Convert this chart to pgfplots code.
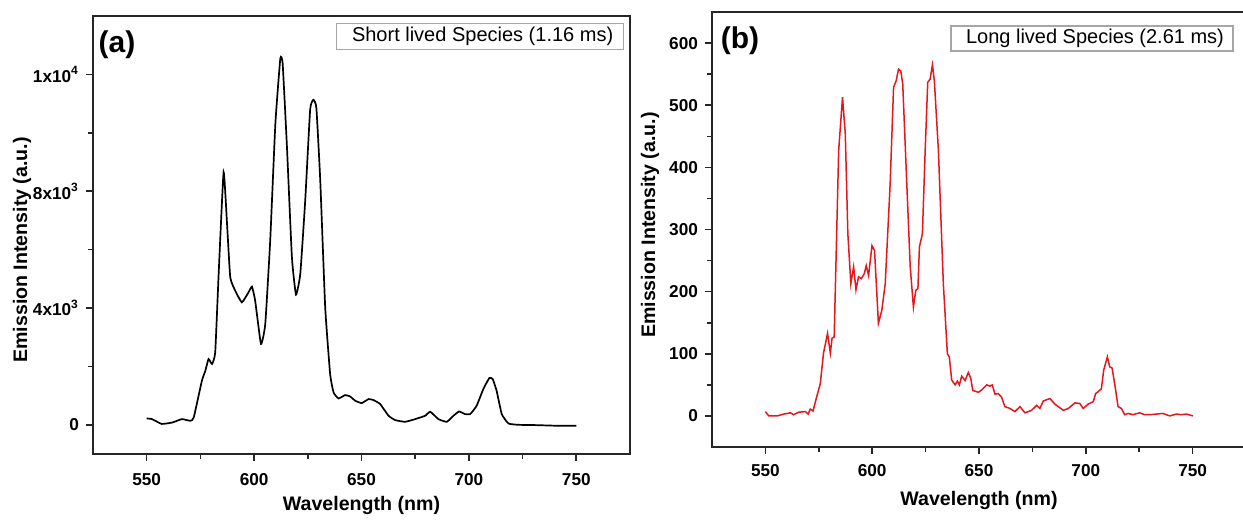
\documentclass[border=0pt]{standalone}
\usepackage{pgfplots}
\pgfplotsset{compat=1.18}
\usepackage{pgfplotstable}
\usepackage{fontspec}
\setmainfont{Liberation Sans}
\definecolor{specred}{RGB}{228,22,30}

\pgfplotstableread{
wl I
550 216
552.5 195
557 30
562 80
566.4 195
570.3 137
571.9 250
575.7 1509
577.3 1852
578.8 2253
580.4 2081
581.9 2481
583.5 5167
585.8 8652
587.4 6882
588.9 5052
591.2 4595
594.3 4194
597.4 4537
599 4732
600.5 4252
603.2 2767
605.2 3453
607.5 6309
609.9 10311
612.2 12540
613.3 12369
615.3 9509
617.6 5737
619.5 4458
621.5 5167
623.8 7681
626.1 10800
627.6 11130
629 10850
630.8 8367
633.1 4022
635.4 1738
637 1108
639.3 903
642.4 1018
644.7 971
647.1 823
650.1 744
653.3 881
655.6 847
658.7 710
662.6 309
665.7 161
670.3 103
675 195
679.6 309
682 446
685.8 195
689.7 103
692.8 309
695.4 456
698.2 367
700.6 367
703.6 652
706.7 1223
709.5 1600
711.1 1566
712.9 1166
715.3 367
718.4 46
723 0
730.8 -10
740 -30
750 -34
}\shortdata

\pgfplotstableread{
wl I
550 7
551.6 0
555.5 0
558.6 3
561.7 5
563.2 2
565.6 6
568.7 7
570 3
571 11
572.3 8
573.8 28
575.7 52
577.2 101
579.1 133
580.4 101
581.2 125
582.2 127
584.3 427
586.1 513
587.4 454
588.6 293
590 213
591.3 240
592.4 203
593.6 224
594.9 221
596.3 229
597.2 242
598.3 226
599.9 274
601.1 266
602.9 149
604.5 170
606.1 213
608.4 373
610 529
611.2 539
612.3 558
613.4 555
614.3 534
616.2 373
617.8 240
619.3 175
620.4 202
621.4 205
622.1 272
623.5 293
624.8 427
626 537
627.1 542
628.2 565
629.1 539
631 427
633.3 213
635.2 100
636.1 95
637.2 58
638.8 50
639.9 56
640.8 50
641.9 64
643.5 57
645 70
646.1 61
647.1 41
649.7 38
651.3 42
653.6 50
655.1 48
656.2 50
657.5 35
659 36
660.6 30
662.1 15
664.5 12
666.8 7
669.2 15
671.5 5
674.6 9
677 17
678.5 12
680.1 24
683.2 28
685.5 19
689.5 9
691.8 12
694.9 21
697.2 20
698.8 12
701.1 19
703.5 23
704.6 36
705.8 39
707.3 44
708.4 74
710.1 95
711.2 79
712.3 77
713.6 50
715.1 15
716.7 12
718.2 2
719.8 4
722.1 2
725.2 5
727.6 2
729.9 2
733 3
736.1 4
739.3 0
742.4 3
744.7 2
747.1 3
750.2 0
}\longdata

\pgfplotsset{
  specaxis/.style={
    anchor=south west,
    scale only axis,
    axis line style={line width=0.9pt, black!85},
    tick style={line width=0.8pt, black!85},
    tick align=outside,
    xtick pos=bottom,
    ytick pos=left,
    major tick length=3.5pt,
    minor tick length=2.5pt,
    xmin=525, xmax=775,
    xtick={550,600,650,700,750},
    minor x tick num=1,
    scaled x ticks=false,
    scaled y ticks=false,
    tick label style={font=\fontsize{8.6}{9.5}\selectfont\bfseries},
    /pgf/number format/assume math mode=true,
    label style={font=\fontsize{9.8}{11}\selectfont\bfseries},
    xlabel={Wavelength (nm)},
    ylabel={Emission Intensity (a.u.)},
  }
}

\begin{document}
\begin{tikzpicture}
\useasboundingbox (0,0) rectangle (621.5pt,260.5pt);

\begin{axis}[specaxis,
  at={(46.5pt,33.5pt)},
  width=268.5pt, height=219pt,
  ymin=-1000, ymax=14000,
  ytick={0,4000,8000,12000},
  yticklabels={0, 4x10\textsuperscript{3}, 8x10\textsuperscript{3}, 1x10\textsuperscript{4}},
  minor y tick num=1,
  xticklabel style={yshift=-2.5pt},
  xlabel style={at={(axis description cs:0.5,-0.118)}, anchor=center},
  ylabel style={at={(axis description cs:-0.132,0.466)}, anchor=center},
]
\addplot[black, line width=0.85pt, smooth, tension=0.25] table[x=wl,y=I] {\shortdata};
\node[font=\fontsize{15}{16}\selectfont\bfseries] at (rel axis cs:0.0447,0.934) {(a)};
\node[draw=gray!70, line width=0.6pt, minimum width=143.5pt, minimum height=13pt, inner sep=0pt,
      font=\fontsize{10}{11}\selectfont] at (rel axis cs:0.72,0.954) {\hspace*{3pt}Short lived Species (1.16 ms)};
\end{axis}

\begin{axis}[specaxis,
  at={(356pt,37pt)},
  width=267pt, height=217.5pt,
  ymin=-50, ymax=650,
  ytick={0,100,200,300,400,500,600},
  minor y tick num=1,
  xticklabel style={yshift=-1.5pt},
  xlabel style={at={(axis description cs:0.5,-0.124)}, anchor=center},
  ylabel style={at={(axis description cs:-0.116,0.51)}, anchor=center},
]
\addplot[specred, line width=0.75pt] table[x=wl,y=I] {\longdata};
\node[font=\fontsize{15}{16}\selectfont\bfseries] at (rel axis cs:0.0524,0.933) {(b)};
\node[draw=gray!70, line width=0.6pt, minimum width=141pt, minimum height=12.5pt, inner sep=0pt,
      font=\fontsize{10}{11}\selectfont] at (rel axis cs:0.7116,0.939) {\hspace*{3pt}Long lived Species (2.61 ms)};
\end{axis}
\end{tikzpicture}
\end{document}
